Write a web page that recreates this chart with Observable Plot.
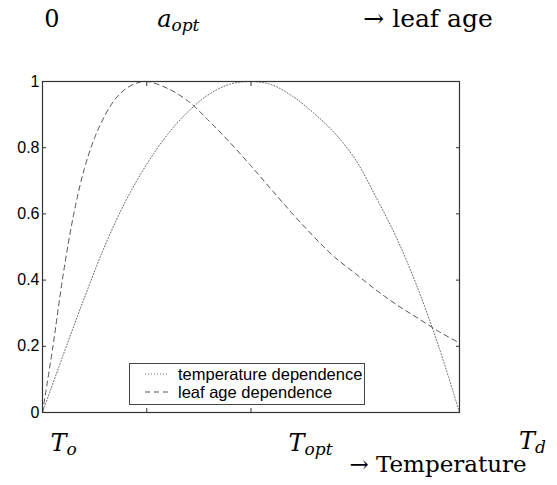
<!DOCTYPE html>
<html><head><meta charset="utf-8">
<script src="https://cdn.jsdelivr.net/npm/d3@7"></script>
<script src="https://cdn.jsdelivr.net/npm/@observablehq/plot@0.6"></script>
<style>
body{margin:0;background:#fff;}
#wrap{position:relative;width:557px;height:485px;}
#legend{position:absolute;left:129px;top:363px;width:234px;height:40px;border:1px solid #444;background:#fff;}
</style></head><body><div id="wrap"><div id="chart"></div><div id="legend"></div></div>
<script>
// temperature dependence (dotted)
const tempX = [0, 0.05, 0.1, 0.15, 0.2, 0.25, 0.3, 0.35, 0.4, 0.45, 0.5, 0.55, 0.6, 0.65, 0.7, 0.75, 0.8, 0.85, 0.9, 0.95, 1];
const tempY = [0, 0.175, 0.345, 0.505, 0.64, 0.75, 0.84, 0.91, 0.962, 0.992, 1, 0.99, 0.955, 0.905, 0.845, 0.765, 0.65, 0.525, 0.375, 0.2, 0];
// leaf age dependence (dashed)
const ageX = [0, 0.025, 0.05, 0.075, 0.1, 0.125, 0.15, 0.175, 0.2, 0.225, 0.25, 0.3, 0.35, 0.4, 0.45, 0.5, 0.55, 0.6, 0.65, 0.7, 0.75, 0.8, 0.85, 0.9, 0.95, 1];
const ageY = [0, 0.2, 0.42, 0.6, 0.735, 0.83, 0.898, 0.948, 0.978, 0.995, 1, 0.979, 0.94, 0.88, 0.815, 0.745, 0.672, 0.6, 0.532, 0.47, 0.42, 0.37, 0.325, 0.285, 0.245, 0.21];

const seriesNames = ["temperature dependence", "leaf age dependence"];
const yTicks = [0, 0.2, 0.4, 0.6, 0.8, 1];
const xTicks = [0.25, 0.5];

const bottomLabelX = [0, 0.5, 1];
const bottomLabelMain = ["T", "T", "T"];
const bottomLabelSub = ["o", "opt", "d"];
const topLabelX = [0, 0.25];
const topLabelMain = ["0", "a"];
const topLabelSub = ["", "opt"];
const topLabelItalic = [false, true];
const bottomTitle = "→ Temperature";
const topTitle = "→ leaf age";

const temp = tempX.map((x, i) => ({x, y: tempY[i]}));
const age = ageX.map((x, i) => ({x, y: ageY[i]}));

const serif = "'DejaVu Serif', serif";
const sans = "'Liberation Sans', Arial, sans-serif";
const bottomDx = [21, 59.5, 73];
const bottomDy = [38, 38, 36];
const topDx = [9.5, 31.5];

const marks = [
  Plot.line(temp, {x: "x", y: "y", curve: "catmull-rom", stroke: "#666", strokeWidth: 1, strokeDasharray: "1,2"}),
  Plot.line(age, {x: "x", y: "y", curve: "catmull-rom", stroke: "#555", strokeWidth: 1, strokeDasharray: "5,4"}),
  Plot.frame({stroke: "#333", strokeWidth: 1.2}),
  Plot.axisY(yTicks, {anchor: "left", tickSize: -4, tickPadding: 7, tickFormat: d => String(d), label: null, stroke: "#333", fontSize: 16, fill: "#000"}),
  Plot.axisY(yTicks, {anchor: "right", tickSize: -4, tickFormat: () => "", label: null, stroke: "#333"}),
  Plot.axisX(xTicks, {anchor: "bottom", tickSize: -4, tickFormat: () => "", label: null, stroke: "#333"}),
  Plot.axisX(xTicks, {anchor: "top", tickSize: -4, tickFormat: () => "", label: null, stroke: "#333"})
];
bottomLabelX.forEach((x, i) => {
  marks.push(Plot.text([x], {x: d => d, text: () => bottomLabelMain[i] + bottomLabelSub[i], frameAnchor: "bottom", lineAnchor: "bottom", textAnchor: "middle", dx: bottomDx[i], dy: bottomDy[i], fontSize: 24, fontFamily: serif, fill: "#000"}));
});
topLabelX.forEach((x, i) => {
  marks.push(Plot.text([x], {x: d => d, text: () => topLabelMain[i] + topLabelSub[i], frameAnchor: "top", lineAnchor: "bottom", textAnchor: "middle", dx: topDx[i], dy: -55, fontSize: 24, fontFamily: serif, fill: "#000"}));
});
marks.push(Plot.text([bottomTitle], {text: d => d, frameAnchor: "bottom-right", lineAnchor: "bottom", textAnchor: "middle", dx: -21.5, dy: 59, fontSize: 23, fontFamily: serif, fill: "#000"}));
marks.push(Plot.text([topTitle], {text: d => d, frameAnchor: "top-right", lineAnchor: "bottom", textAnchor: "middle", dx: -31.5, dy: -55, fontSize: 25, fontFamily: serif, fill: "#000"}));

const chart = Plot.plot({
  width: 557, height: 485,
  marginLeft: 42, marginRight: 98, marginTop: 81, marginBottom: 73,
  x: {domain: [0, 1], axis: null},
  y: {domain: [0, 1], axis: null},
  style: {background: "#fff", color: "#000", fontFamily: sans},
  marks
});
document.getElementById("chart").appendChild(chart);

// y tick labels: enlarge the left-axis texts
const tickStrings = new Set(yTicks.map(String));
d3.select(chart).selectAll("text")
  .filter(function() { return tickStrings.has(this.textContent.trim()) && this.parentNode.getAttribute("aria-label") !== "text"; })
  .attr("font-size", 16).style("font-size", "16px").style("font-family", sans).attr("fill", "#000");

const textGroups = d3.select(chart).selectAll('g[aria-label="text"]').nodes();
function subscript(node, main, sub, italic) {
  const t = d3.select(node).select("text");
  t.text("");
  t.append("tspan").attr("font-style", italic ? "italic" : "normal").text(main);
  if (sub) t.append("tspan").attr("font-style", "italic").attr("font-size", "17px").attr("dy", "0.28em").text(sub);
}
bottomLabelX.forEach((x, i) => subscript(textGroups[i], bottomLabelMain[i], bottomLabelSub[i], true));
topLabelX.forEach((x, i) => subscript(textGroups[bottomLabelX.length + i], topLabelMain[i], topLabelSub[i], topLabelItalic[i]));

// legend
const lg = d3.select("#legend").append("svg").attr("width", 234).attr("height", 40).style("display", "block");
const dashes = ["1,2", "5,4"];
const strokes = ["#666", "#555"];
seriesNames.forEach((name, i) => {
  const cy = 10 + i * 18;
  lg.append("line").attr("x1", 15).attr("x2", 38).attr("y1", cy).attr("y2", cy)
    .attr("stroke", strokes[i]).attr("stroke-dasharray", dashes[i]).attr("stroke-width", 1);
  lg.append("text").attr("x", 48).attr("y", cy).attr("dy", "0.35em")
    .attr("font-family", sans).attr("font-size", 16.5).attr("fill", "#000").text(name);
});
</script></body></html>
